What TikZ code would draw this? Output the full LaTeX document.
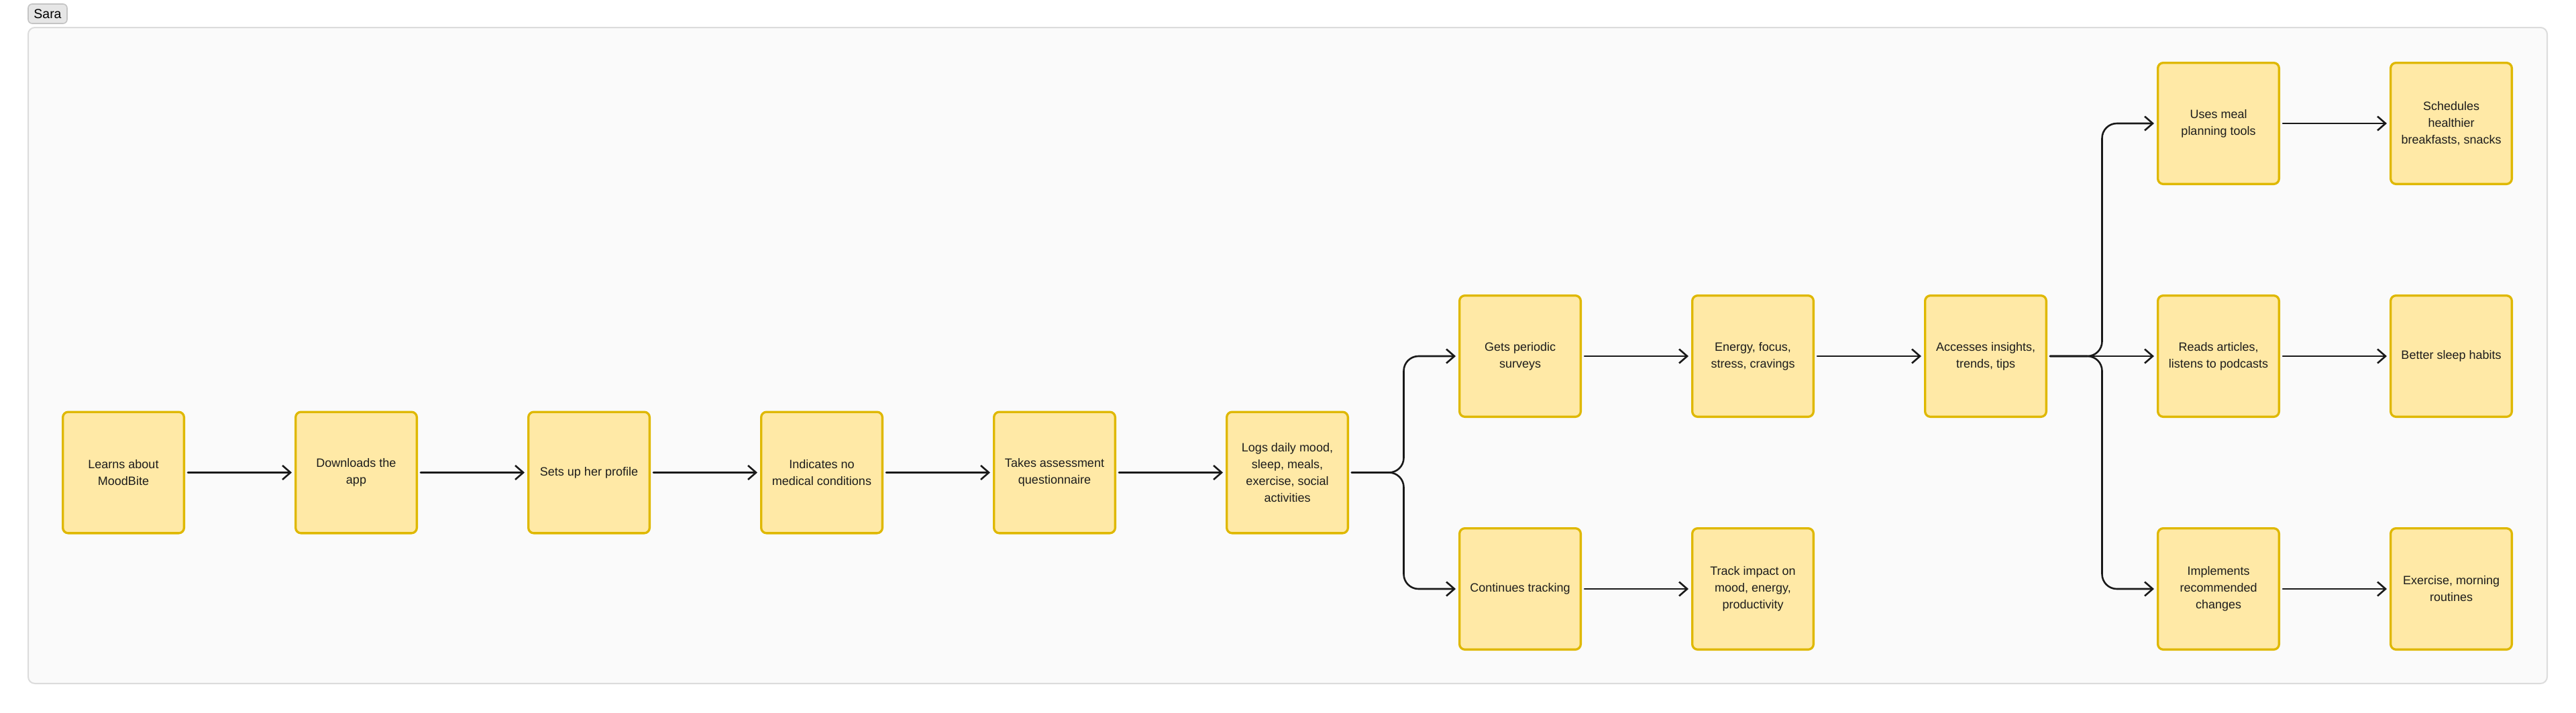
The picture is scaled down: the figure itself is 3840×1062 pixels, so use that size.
\documentclass[tikz,border=0pt]{standalone}
\usepackage{fontspec}
\setmainfont{Liberation Sans}
\usepackage{tikz}
\usepackage{xcolor}
\usetikzlibrary{positioning, arrows.meta}

\definecolor{boxfill}{HTML}{FFE9A6}
\definecolor{boxedge}{HTML}{DFB800}
\definecolor{inktext}{HTML}{1C1C1C}
\definecolor{panelfill}{HTML}{FAFAFA}
\definecolor{paneledge}{HTML}{DCDCDC}
\definecolor{tagfill}{HTML}{E6E6E6}
\definecolor{tagedge}{HTML}{C4C4C4}

\tikzset{
    journey/.style={draw=boxedge, fill=boxfill, line width=1.65pt, rounded corners=4pt, minimum width=90.35pt, minimum height=90.35pt, inner sep=0pt, align=center, text=inktext, font=\fontsize{9}{12.5}\selectfont},
    flow/.style={draw=black!90, line width=1.3pt, line cap=round, line join=round, -{Straight Barb[length=6pt, width=10.5pt]}, shorten <=2pt, shorten >=2pt},
    persona/.style={draw=tagedge, fill=tagfill, line width=0.8pt, rounded corners=3pt, minimum width=29pt, minimum height=14.5pt, inner sep=0pt, font=\fontsize{9.75}{11}\selectfont}
}

\begin{document}
\begin{tikzpicture}[x=0.5pt, y=-0.5pt]
                    \useasboundingbox (0, 0) rectangle (3840, 1062);
                    \fill[white] (0, 0) rectangle (3840, 1062);
                    \draw[draw=paneledge, fill=panelfill, line width=1pt, rounded corners=5pt] (42, 41) rectangle (3797, 1019);
                    \node[persona] (sara) at (71, 20.5) {Sara};

                    \node[journey] (learn) at (184, 704.5) {Learns about\\MoodBite};
                    \node[journey] (download) at (531, 704.5) {Downloads the\\app};
                    \node[journey] (profile) at (878, 704.5) {Sets up her profile};
                    \node[journey] (conditions) at (1225, 704.5) {Indicates no\\medical conditions};
                    \node[journey] (assess) at (1572, 704.5) {Takes assessment\\questionnaire};
                    \node[journey] (logs) at (1919, 704.5) {Logs daily mood,\\sleep, meals,\\exercise, social\\activities};
                    \node[journey] (surveys) at (2266, 531) {Gets periodic\\surveys};
                    \node[journey] (factors) at (2613, 531) {Energy, focus,\\stress, cravings};
                    \node[journey] (tracking) at (2266, 878) {Continues tracking};
                    \node[journey] (impact) at (2613, 878) {Track impact on\\mood, energy,\\productivity};
                    \node[journey] (insights) at (2960, 531) {Accesses insights,\\trends, tips};
                    \node[journey] (meals) at (3307, 184) {Uses meal\\planning tools};
                    \node[journey] (breakfast) at (3654, 184) {Schedules\\healthier\\breakfasts, snacks};
                    \node[journey] (articles) at (3307, 531) {Reads articles,\\listens to podcasts};
                    \node[journey] (sleep) at (3654, 531) {Better sleep habits};
                    \node[journey] (changes) at (3307, 878) {Implements\\recommended\\changes};
                    \node[journey] (routines) at (3654, 878) {Exercise, morning\\routines};

                    \draw[flow] (learn) -- (download);
                    \draw[flow] (download) -- (profile);
                    \draw[flow] (profile) -- (conditions);
                    \draw[flow] (conditions) -- (assess);
                    \draw[flow] (assess) -- (logs);
                    \draw[flow, rounded corners=11pt] (logs.east) -- ++(81.5, 0) |- (surveys.west);
                    \draw[flow, rounded corners=11pt] (logs.east) -- ++(81.5, 0) |- (tracking.west);
                    \draw[flow] (surveys) -- (factors);
                    \draw[flow] (tracking) -- (impact);
                    \draw[flow] (factors) -- (insights);
                    \draw[flow, rounded corners=11pt] (insights.east) -- ++(81.5, 0) |- (meals.west);
                    \draw[flow] (insights) -- (articles);
                    \draw[flow, rounded corners=11pt] (insights.east) -- ++(81.5, 0) |- (changes.west);
                    \draw[flow] (meals) -- (breakfast);
                    \draw[flow] (articles) -- (sleep);
                    \draw[flow] (changes) -- (routines);
                \end{tikzpicture}
\end{document}
